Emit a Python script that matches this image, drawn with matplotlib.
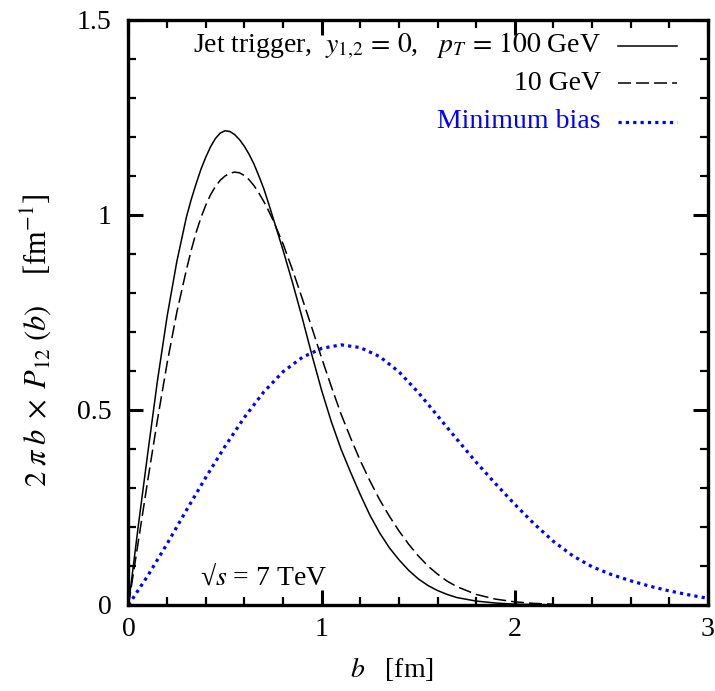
import matplotlib
matplotlib.use('Agg')
import matplotlib.pyplot as plt
from matplotlib.ticker import MultipleLocator

plt.rcParams['font.family'] = ['Liberation Serif', 'DejaVu Serif']
plt.rcParams['mathtext.fontset'] = 'stix'

# impact parameter b [fm] and curves
b_jet = [0, 0.05, 0.1, 0.15, 0.2, 0.25, 0.3,
         0.325, 0.35, 0.375, 0.4, 0.425, 0.45, 0.475, 0.5, 0.525, 0.55, 0.575,
         0.6, 0.625, 0.65, 0.675, 0.7, 0.725, 0.75,
         0.8, 0.85, 0.9, 0.95, 1.0, 1.05, 1.1, 1.15, 1.2, 1.25, 1.3, 1.35, 1.4,
         1.45, 1.5, 1.55, 1.6, 1.65, 1.7,
         1.8, 1.9, 2.0, 2.1, 2.2]
jet_100 = [0, 0.20, 0.39, 0.575, 0.74, 0.88, 0.995,
           1.04, 1.08, 1.117, 1.148, 1.175, 1.196, 1.21, 1.216, 1.214, 1.206,
           1.193, 1.176, 1.155, 1.13, 1.10, 1.068, 1.03, 0.99,
           0.91, 0.825, 0.735, 0.64, 0.55, 0.47, 0.40, 0.34, 0.283, 0.23, 0.185,
           0.147, 0.116, 0.089, 0.067, 0.05, 0.037, 0.027, 0.019,
           0.010, 0.005, 0.002, 0.001, 0.0]
jet_10 = [0, 0.16, 0.32, 0.475, 0.62, 0.75, 0.86,
          0.91, 0.955, 0.993, 1.025, 1.052, 1.073, 1.089, 1.10, 1.107, 1.11,
          1.108, 1.101, 1.09, 1.075, 1.056, 1.035, 1.011, 0.985,
          0.926, 0.858, 0.785, 0.71, 0.633, 0.56, 0.49, 0.428, 0.37, 0.318,
          0.27, 0.228, 0.19, 0.156, 0.126, 0.10, 0.079, 0.061, 0.047,
          0.027, 0.015, 0.008, 0.004, 0.002]

b_mb = [0, 0.1, 0.2, 0.3, 0.4, 0.5, 0.6, 0.7, 0.8, 0.9, 1.0, 1.1, 1.2, 1.3,
        1.4, 1.5, 1.6, 1.7, 1.8, 1.9, 2.0, 2.1, 2.2, 2.3, 2.4, 2.5, 2.6, 2.7,
        2.8, 2.9, 3.0]
min_bias = [0, 0.075, 0.157, 0.243, 0.327, 0.407, 0.481, 0.546, 0.598, 0.635,
            0.658, 0.667, 0.660, 0.637, 0.598, 0.545, 0.485, 0.425, 0.366,
            0.311, 0.258, 0.208, 0.163, 0.126, 0.098, 0.078, 0.062, 0.048,
            0.036, 0.026, 0.017]

labels = [r'Jet trigger,  $y_{1{,}2}\,=\,0$,   $p_T\,=\,100$ GeV', '10 GeV',
          'Minimum bias']
blue = '#0000ff'
fs = 20

fig = plt.figure(figsize=(7.15, 6.91), dpi=100)
ax = fig.add_axes([0.1797, 0.1245, 0.8105, 0.8466])

ax.plot(b_jet, jet_100, color='black', lw=1.1)
ax.plot(b_jet, jet_10, color='black', lw=1.1, linestyle=(0, (8.5, 3.3)))
ax.plot(b_mb, min_bias, color=blue, lw=2.3, linestyle=(0, (1.0, 1.3)))

# legend drawn by hand: right aligned text, key to the right
styles = [dict(color='black', lw=1.1),
          dict(color='black', lw=1.1, linestyle=(0, (8.5, 3.3))),
          dict(color=blue, lw=2.3, linestyle=(0, (1.0, 1.3)))]
rows = [0.9556, 0.892, 0.826]
for lab, st, yy in zip(labels, styles, rows):
    ax.text(0.815, yy, lab, transform=ax.transAxes, ha='right', va='center',
            fontsize=fs, color=st['color'])
    ax.plot([0.845, 0.947], [yy, yy], transform=ax.transAxes, **st)

ax.text(0.123, 0.048, r'√$s$ = 7 TeV', transform=ax.transAxes, fontsize=fs,
        ha='left', va='center')

ax.set_xlim(0, 3)
ax.set_ylim(0, 1.5)
ax.set_xticks([0, 1, 2, 3])
ax.set_xticklabels(['0', '1', '2', '3'])
ax.set_yticks([0, 0.5, 1, 1.5])
ax.set_yticklabels(['0', '0.5', '1', '1.5'])
ax.xaxis.set_minor_locator(MultipleLocator(0.2))
ax.yaxis.set_minor_locator(MultipleLocator(0.1))
ax.tick_params(which='both', direction='in', top=True, right=True)
ax.tick_params(which='major', length=11, width=2.2, labelsize=fs)
ax.tick_params(axis='x', which='major', pad=9)
ax.tick_params(axis='y', which='major', pad=12)
ax.tick_params(which='minor', length=6, width=1.6)
for s in ax.spines.values():
    s.set_linewidth(2.4)

ax.set_xlabel(r'$b$   [fm]', fontsize=fs)
ax.set_ylabel(r'$2\;\pi\;b\;\times\;P_{12}\;(b)$    [fm$^{-1}$]', fontsize=22)
ax.xaxis.set_label_coords(0.455, -0.085)
ax.yaxis.set_label_coords(-0.13, 0.453)

plt.savefig('out.png', dpi=100)
